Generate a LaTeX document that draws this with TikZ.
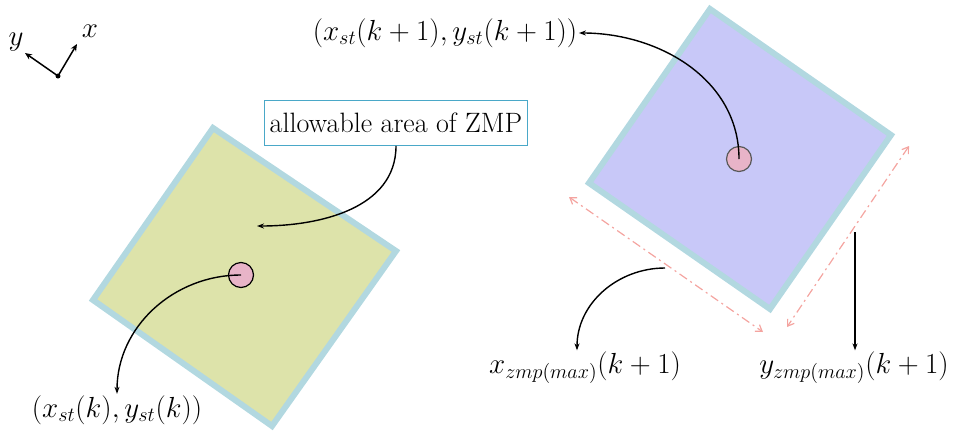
\documentclass[tikz,border=0pt]{standalone}
\usetikzlibrary{arrows.meta}
\definecolor{edgeblue}{HTML}{B2D8E0}
\definecolor{leftfill}{HTML}{DDE3AA}
\definecolor{rightfill}{HTML}{C8C8F8}
\definecolor{pinkdot}{HTML}{E8B4C8}
\definecolor{dashred}{HTML}{F4A4A0}
\definecolor{boxblue}{HTML}{4AA8C8}
\tikzset{
  lbl/.style={font=\huge, inner sep=1pt, scale=1.4},
  callout/.style={draw=black, line width=1.4pt, -{Stealth[length=7pt,width=5pt]}},
  dimarrow/.style={draw=dashred, line width=1.2pt, dash pattern=on 9pt off 4pt on 2pt off 4pt, {Straight Barb[length=6pt,width=8pt]}-{Straight Barb[length=6pt,width=8pt]}},
  zmpdot/.style={circle, fill=pinkdot, minimum size=25pt, inner sep=0pt, line width=1.2pt},
  footsq/.style={draw=edgeblue, line width=6pt, line join=miter}
}
\begin{document}
\begin{tikzpicture}[x=1pt,y=-1pt]
\useasboundingbox (0,0) rectangle (955,432);
% axes
\node[circle, fill=black, inner sep=0pt, minimum size=5pt] (o) at (58,76) {};
\coordinate (xa) at (77,44);
\coordinate (ya) at (25,53);
\draw[line width=1.5pt, -{Stealth[length=7pt,width=6pt]}] (o.center) -- (xa);
\draw[line width=1.5pt, -{Stealth[length=7pt,width=6pt]}] (o.center) -- (ya);
\node[lbl] (xlab) at (90,31) {$x$};
\node[lbl] (ylab) at (16,42) {$y$};
% left square
\path[footsq, fill=leftfill] (213,128) -- (396,251) -- (272,426) -- (93,300) -- cycle;
% right square
\path[footsq, fill=rightfill] (710,9) -- (891,135) -- (770,309) -- (589,183) -- cycle;
% dots
\node[zmpdot, draw=black] (c1) at (241,275) {};
\node[zmpdot, draw=black!65] (c2) at (739,159) {};
% dimension arrows
\coordinate (d1a) at (569,197);
\coordinate (d1b) at (763,332);
\coordinate (d2a) at (909,146);
\coordinate (d2b) at (787,327);
\draw[dimarrow] (d1a) -- (d1b);
\draw[dimarrow] (d2a) -- (d2b);
% box
\node[draw=boxblue, line width=0.75pt, inner xsep=4pt, inner ysep=0pt, minimum height=33pt, fill=white, font=\huge, scale=1.35] (box) at (396,123) {allowable area of ZMP};
% labels
\node[lbl] (lk) at (117,410) {$(x_{st}(k),y_{st}(k))$};
\node[lbl] (lk1) at (445,33) {$(x_{st}(k+1),y_{st}(k+1))$};
\node[lbl] (lxm) at (585,368) {$x_{zmp(max)}(k+1)$};
\node[lbl] (lym) at (854,368) {$y_{zmp(max)}(k+1)$};
% callouts
\coordinate (area) at (257,226);
\draw[callout] (box.south) to[out=-90, in=0] (area);
\draw[callout] (c1.center) to[out=180, in=90] (lk.north);
\draw[callout] (c2.center) to[out=90, in=0] (lk1.east);
\coordinate (xs) at (665,268);
\draw[callout] (xs) to[out=180, in=90] (lxm.north -| 577,0);
\coordinate (ys) at (855,232);
\draw[callout] (ys) -- (ys |- lym.north);
\end{tikzpicture}
\end{document}
